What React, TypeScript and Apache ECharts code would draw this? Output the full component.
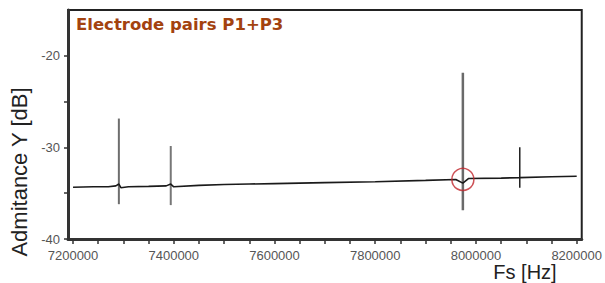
import React, { useEffect, useRef } from "react";
import * as echarts from "echarts";

const titleText = "Electrode pairs P1+P3";
const yAxisTitle = "Admitance Y [dB]";
const xAxisTitle = "Fs [Hz]";

const xTickValues = [7200000, 7250000, 7300000, 7350000, 7400000, 7450000, 7500000, 7550000, 7600000, 7650000, 7700000, 7750000, 7800000, 7850000, 7900000, 7950000, 8000000, 8050000, 8100000, 8150000, 8200000];
const xLabelValues = [7200000, 7400000, 7600000, 7800000, 8000000, 8200000];
const yTickValues = [-40, -35, -30, -25, -20];
const yLabelValues = [-40, -30, -20];

const baseFreqs = [7200000, 7240000, 7270000, 7285000, 7291000, 7295000, 7310000, 7350000, 7385000, 7394000, 7400000, 7450000, 7500000, 7550000, 7600000, 7700000, 7800000, 7900000, 7960000, 7974000, 7985000, 8050000, 8087000, 8150000, 8200000];
const baseValues = [-34.35, -34.3, -34.3, -34.2, -34.0, -34.4, -34.3, -34.25, -34.2, -34.0, -34.3, -34.15, -34.05, -34.0, -33.95, -33.85, -33.75, -33.6, -33.5, -33.9, -33.4, -33.35, -33.3, -33.2, -33.15];

const spikeFreqs = [7291000, 7394000, 7974000, 8087000];
const spikeTops = [-26.85, -29.85, -21.85, -29.97];
const spikeBottoms = [-36.2, -36.3, -36.85, -34.4];
const spikeColors = ["#6e6e6e", "#777777", "#6a6a6a", "#111111"];
const spikeWidths = [2, 2, 2.5, 1.4];

const circleFreq = [7974000];
const circleValue = [-33.5];

export default function App() {
  const ref = useRef<HTMLDivElement>(null);
  useEffect(() => {
    if (!ref.current) return;
    const chart = echarts.init(ref.current, undefined, { renderer: "svg" });
    const font = "'Liberation Sans', Arial, sans-serif";
    const spikeSeries = spikeFreqs.map((f, i) => ({
      type: "line",
      data: [[f, spikeTops[i]], [f, spikeBottoms[i]]],
      showSymbol: false,
      symbol: "none",
      lineStyle: { color: spikeColors[i], width: spikeWidths[i] },
      z: 3,
    }));
    chart.setOption({
      animation: false,
      backgroundColor: "#ffffff",
      grid: {
        left: 68,
        right: 22,
        top: 10,
        bottom: 44,
        show: true,
        borderColor: "#222",
        borderWidth: 2,
        backgroundColor: "transparent",
      },
      xAxis: {
        type: "value",
        min: 7190000,
        max: 8210000,
        splitLine: { show: false },
        axisLine: { show: true, onZero: false, lineStyle: { color: "#333", width: 3 } },
        axisTick: { show: true, inside: false, length: 5, customValues: xTickValues, lineStyle: { color: "#333", width: 1.5 } },
        axisLabel: {
          customValues: xLabelValues,
          margin: 10,
          fontSize: 13,
          color: "#555",
          fontFamily: font,
          formatter: (v: number) => String(v),
        },
      },
      yAxis: {
        type: "value",
        min: -40,
        max: -15,
        splitLine: { show: false },
        axisLine: { show: true, onZero: false, lineStyle: { color: "#333", width: 3 } },
        axisTick: { show: true, inside: false, length: 4, customValues: yTickValues, lineStyle: { color: "#333", width: 1.5 } },
        axisLabel: {
          customValues: yLabelValues,
          margin: 8,
          fontSize: 13,
          color: "#555",
          fontFamily: font,
        },
      },
      series: [
        {
          type: "line",
          data: baseFreqs.map((f, i) => [f, baseValues[i]]),
          showSymbol: false,
          symbol: "none",
          lineStyle: { color: "#1a1a1a", width: 1.6 },
          z: 4,
        },
        ...spikeSeries,
        {
          type: "scatter",
          data: circleFreq.map((f, i) => [f, circleValue[i]]),
          symbol: "circle",
          symbolSize: 22,
          itemStyle: { color: "rgba(0,0,0,0)", borderColor: "#c0262c", borderWidth: 1.5 },
          z: 5,
        },
      ],
      graphic: [
        {
          type: "text",
          left: 76,
          top: 16,
          style: { text: titleText, fill: "#a3420f", font: `bold 16.5px 'DejaVu Sans', sans-serif` },
          z: 10,
        },
        {
          type: "text",
          x: 19,
          y: 172,
          rotation: Math.PI / 2,
          style: { text: yAxisTitle, fill: "#222", font: `22px ${font}`, align: "center", verticalAlign: "middle" },
        },
        {
          type: "text",
          x: 525,
          y: 272,
          style: { text: xAxisTitle, fill: "#222", font: `20px ${font}`, align: "center", verticalAlign: "middle" },
        },
      ],
    });
    return () => chart.dispose();
  }, []);
  return <div ref={ref} style={{ width: 605, height: 283, position: "absolute", left: 0, top: 0 }} />;
}
